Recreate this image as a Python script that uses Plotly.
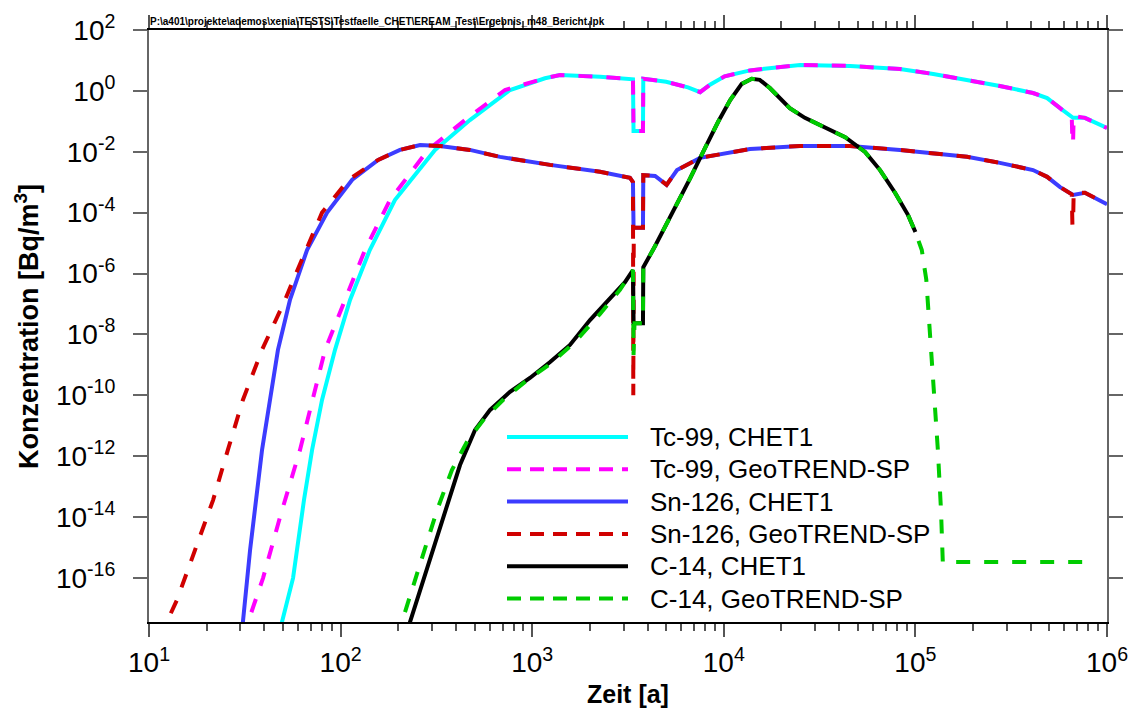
import plotly.graph_objects as go

# ---------------- data ----------------
tc_chet_x = [47, 56.5, 64.4, 71, 80, 93.5, 112, 142, 192, 311, 473, 766, 1166, 1397, 2260, 3300, 3357,
             3380, 3785, 3800, 5000, 6500, 7520, 8470, 1.01e4, 1.37e4, 2.5e4, 4.57e4, 8.3e4, 1.24e5,
             1.86e5, 2.76e5, 4.11e5, 4.87e5, 5.69e5, 6.65e5, 7.67e5, 1e6]
tc_chet_y = [1e-18, 1e-16, 3.6e-14, 1.6e-12, 7e-11, 3.1e-9, 1.35e-7, 5.9e-6, 2.6e-4, 0.0115, 0.11, 1.07,
             2.6, 3.3, 2.9, 2.5, 2.4, 0.048, 0.048, 2.5, 2.0, 1.3, 0.91, 1.6, 3.0, 4.7, 7.1, 6.6, 5.2,
             3.6, 2.3, 1.45, 0.85, 0.58, 0.27, 0.13, 0.13, 0.06]

tc_geo_x = [30.7, 39.4, 48.3, 61.4, 83, 105.4, 134, 181, 286, 446, 721, 1166, 1397, 2260, 3300, 3357,
            3380, 3785, 3800, 5000, 6500, 7520, 8470, 1.01e4, 1.37e4, 2.5e4, 4.57e4, 8.3e4, 1.24e5,
            1.86e5, 2.76e5, 4.11e5, 4.87e5, 5.69e5, 6.55e5, 6.6e5, 6.65e5, 6.7e5, 7.67e5, 1e6]
tc_geo_y = [1e-18, 1e-16, 1e-14, 1.6e-12, 3.1e-9, 1.35e-7, 5.9e-6, 2.6e-4, 0.0115, 0.11, 1.07, 2.6,
            3.3, 2.9, 2.5, 2.4, 0.048, 0.048, 2.5, 2.0, 1.3, 0.91, 1.6, 3.0, 4.7, 7.1, 6.6, 5.2, 3.6,
            2.3, 1.45, 0.85, 0.58, 0.27, 0.13, 0.019, 0.019, 0.15, 0.13, 0.06]

sn_chet_x = [30.3, 33.7, 38.9, 47.1, 54.4, 61, 66.8, 85, 115, 157, 204, 260, 330, 473, 679, 1240, 2260,
             3236, 3357, 3380, 3785, 3800, 4380, 5030, 5700, 7520, 1.37e4, 2.5e4, 4.56e4, 8.3e4,
             1.86e5, 2.76e5, 4.11e5, 4.87e5, 5.69e5, 6.65e5, 7.67e5, 1e6]
sn_chet_y = [1e-18, 8.3e-16, 1.6e-12, 3.1e-9, 1.35e-7, 1e-6, 5.9e-6, 1e-4, 1.2e-3, 5.4e-3, 0.0115,
             0.0166, 0.0155, 0.0115, 0.0068, 0.0037, 0.0022, 0.0014, 1.0e-3, 3.2e-5, 3.2e-5, 1.7e-3,
             1.6e-3, 8.2e-4, 2.5e-3, 6.3e-3, 0.0123, 0.0155, 0.0155, 0.0115, 0.0068, 0.0043, 0.0025,
             0.0015, 6.9e-4, 3.8e-4, 4.5e-4, 1.9e-4]

sn_geo_x = [11.3, 14.0, 17.4, 21.6, 25.8, 30.9, 38.9, 51.3, 58.5, 80, 110, 157, 204, 260, 330, 473,
            679, 1240, 2260, 3236, 3357, 3370, 3390, 3785, 3800, 4380, 5030, 5700, 7520, 1.37e4,
            2.5e4, 4.56e4, 8.3e4, 1.86e5, 2.76e5, 4.11e5, 4.87e5, 5.69e5, 6.55e5, 6.6e5, 6.65e5,
            6.7e5, 7.67e5, 1e6]
sn_geo_y = [1e-18, 1.9e-17, 8.3e-16, 3.6e-14, 1.6e-12, 7e-11, 3.1e-9, 1.35e-7, 1e-6, 1e-4, 1.2e-3,
            5.4e-3, 0.0115, 0.0166, 0.0155, 0.0115, 0.0068, 0.0037, 0.0022, 0.0014, 1.0e-3, 1e-10,
            3.2e-5, 3.2e-5, 1.7e-3, 1.6e-3, 8.2e-4, 2.5e-3, 6.3e-3, 0.0123, 0.0155, 0.0155, 0.0115,
            0.0068, 0.0043, 0.0025, 0.0015, 6.9e-4, 4.0e-4, 3.9e-5, 3.9e-5, 4.6e-4, 4.5e-4, 1.9e-4]

c14_chet_x = [216, 260, 293, 351, 420, 503, 603, 766, 973, 1240, 1574, 2003, 2548, 3050, 3357, 3380,
              3785, 3800, 4380, 5620, 6660, 7940, 9330, 1.08e4, 1.24e4, 1.40e4, 1.54e4, 1.74e4,
              2.21e4, 2.65e4, 3.37e4, 4.3e4, 5.46e4, 6.54e4, 7.83e4, 9.16e4, 1.0e5]
c14_chet_y = [1e-18, 4e-17, 3.9e-16, 1.7e-14, 5.1e-13, 7.2e-12, 3.3e-11, 1.3e-10, 3.7e-10, 1.23e-9,
              4.5e-9, 2.95e-8, 1.6e-7, 5.2e-7, 1.3e-6, 2.3e-8, 2.3e-8, 1.6e-6, 8e-6, 1.6e-4,
              1.3e-3, 0.0125, 0.095, 0.5, 1.7, 2.5, 2.3, 1.24, 0.27, 0.13, 0.065, 0.030, 9.8e-3,
              2.5e-3, 4.5e-4, 8.3e-5, 2.3e-5]

c14_geo_x = [196, 236, 266, 319, 381, 462, 567, 721, 917, 1240, 1672, 2260, 2871, 3357, 3380, 3420,
             3785, 3800, 4380, 5620, 6660, 7940, 9330, 1.08e4, 1.24e4, 1.40e4, 1.54e4, 1.74e4,
             2.21e4, 2.65e4, 3.37e4, 4.3e4, 5.46e4, 6.54e4, 7.83e4, 9.16e4, 1.0e5, 1.08e5, 1.14e5,
             1.19e5, 1.25e5, 1.31e5, 1.36e5, 1.39e5, 8.45e5]
c14_geo_y = [1e-18, 4e-17, 3.9e-16, 1.7e-14, 3.5e-13, 3.4e-12, 1.8e-11, 8.1e-11, 2.75e-10, 1.07e-9,
             5.6e-9, 4.7e-8, 2.9e-7, 1.3e-6, 2.1e-9, 2.3e-8, 2.3e-8, 1.6e-6, 8e-6, 1.6e-4, 1.3e-3,
             0.0125, 0.095, 0.5, 1.7, 2.5, 2.3, 1.24, 0.27, 0.13, 0.065, 0.030, 9.8e-3, 2.5e-3,
             4.5e-4, 8.3e-5, 2.3e-5, 5.9e-6, 6.2e-7, 1.4e-8, 1.5e-10, 1.6e-12, 1.7e-14, 3.3e-16,
             3.3e-16]

series_names = ["Tc-99, CHET1", "Tc-99, GeoTREND-SP", "Sn-126, CHET1",
                "Sn-126, GeoTREND-SP", "C-14, CHET1", "C-14, GeoTREND-SP"]
series_x = [tc_chet_x, tc_geo_x, sn_chet_x, sn_geo_x, c14_chet_x, c14_geo_x]
series_y = [tc_chet_y, tc_geo_y, sn_chet_y, sn_geo_y, c14_chet_y, c14_geo_y]
series_colors = ["#00ffff", "#ff00ff", "#3c3cff", "#d00000", "#000000", "#00cc00"]
series_dashed = [False, True, False, True, False, True]

x_decades = [1, 2, 3, 4, 5, 6]
y_decades = [2, 0, -2, -4, -6, -8, -10, -12, -14, -16]
header_text = r"P:\a401\projekte\ademos\xenia\TESTS\Testfaelle_CHET\EREAM_Test\Ergebnis_m48_Bericht.lpk"
x_title = "Zeit [a]"
y_title = "Konzentration [Bq/m<sup>3</sup>]"

# ---------------- figure ----------------
FONT = "Liberation Sans, Arial, sans-serif"
W, H = 1129, 711
ML, MR, MT, MB = 149, 22, 30, 89
PW, PH = W - ML - MR, H - MT - MB

fig = go.Figure()
for name, xs, ys, col, dsh in zip(series_names, series_x, series_y, series_colors, series_dashed):
    fig.add_trace(go.Scatter(
        x=xs, y=ys, mode="lines", name=name, showlegend=False,
        line=dict(color=col, width=4, dash="14px,14px" if dsh else "solid"),
    ))

# manual legend with long line samples
leg_row0, leg_step = 437, 32.3
for i, (name, col, dsh) in enumerate(zip(series_names, series_colors, series_dashed)):
    ypx = leg_row0 + leg_step * i
    yp = (MT + PH - ypx) / PH
    fig.add_shape(type="line", xref="paper", yref="paper",
                  x0=(507 - ML) / PW, x1=(628 - ML) / PW, y0=yp, y1=yp,
                  line=dict(color=col, width=4, dash="14px,9px" if dsh else "solid"))
    fig.add_annotation(text=name, xref="paper", yref="paper", x=(648 - ML) / PW, y=yp,
                       xanchor="left", yanchor="middle", showarrow=False,
                       font=dict(family=FONT, size=26, color="black"))

fig.add_annotation(text=f"<b>{header_text}</b>", xref="paper", yref="paper", x=-0.001, y=1.0,
                   xanchor="left", yanchor="bottom", yshift=1, showarrow=False,
                   font=dict(family=FONT, size=10, color="black"))
fig.add_annotation(text=f"<b>{y_title}</b>", xref="paper", yref="paper",
                   x=(27 - ML) / PW, y=0.5, xanchor="center", yanchor="middle",
                   textangle=-90, showarrow=False, font=dict(family=FONT, size=27, color="black"))
fig.add_annotation(text=f"<b>{x_title}</b>", xref="paper", yref="paper",
                   x=0.5, y=(MT + PH - 694) / PH, xanchor="center", yanchor="middle",
                   showarrow=False, font=dict(family=FONT, size=25, color="black"))

minor_vals = [d * 10 ** k for k in range(1, 6) for d in range(2, 10)]
fig.update_xaxes(
    type="log", range=[1, 6], automargin=False,
    tickmode="array", tickvals=[10 ** k for k in x_decades],
    ticktext=[f"10<sup>{k}</sup>" for k in x_decades],
    ticks="outside", ticklen=13, tickwidth=1.5, tickcolor="#555555",
    minor=dict(tickvals=minor_vals, ticks="outside", ticklen=7, tickwidth=1.5, tickcolor="#555555"),
    showline=True, linecolor="black", linewidth=1.5, mirror="ticks",
    showgrid=False, zeroline=False,
    tickfont=dict(family=FONT, size=28, color="black"), ticklabelstandoff=2,
)
fig.update_yaxes(
    type="log", range=[-17.45, 2], automargin=False,
    tickmode="array", tickvals=[10.0 ** k for k in y_decades],
    ticktext=[f"10<sup>{k}</sup>" for k in y_decades],
    ticks="outside", ticklen=14, tickwidth=1.5, tickcolor="#666666",
    showline=True, linecolor="#666666", linewidth=2, mirror="ticks",
    showgrid=False, zeroline=False,
    tickfont=dict(family=FONT, size=28, color="black"), ticklabelstandoff=12,
)
fig.update_layout(
    width=W, height=H, autosize=False,
    margin=dict(l=ML, r=MR, t=MT, b=MB, pad=0, autoexpand=False),
    paper_bgcolor="white", plot_bgcolor="white",
    showlegend=False,
    font=dict(family=FONT, color="black"),
)
fig.write_html("out.html")
